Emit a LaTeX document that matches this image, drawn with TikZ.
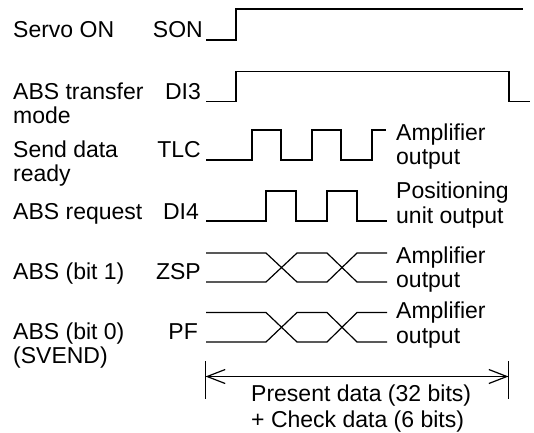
\documentclass[tikz,border=0pt]{standalone}
\usepackage{fontspec}
\setmainfont{Liberation Sans}
\usetikzlibrary{arrows.meta}

\begin{document}
\begin{tikzpicture}[x=1pt,y=-1pt,
    sig/.style={line width=1.2pt},
    txt/.style={font=\fontsize{23}{24.5}\selectfont,inner sep=0pt,align=left}]
  \useasboundingbox (0,0) rectangle (534,432);

  % Signal descriptions (base = last line)
  \node[txt,anchor=base west] (dson) at (13,37.5) {Servo ON};
  \node[txt,anchor=base west] (ddithree) at (13,123.5) {ABS transfer\\mode};
  \node[txt,anchor=base west] (dtlc) at (13,181.5) {Send data\\ready};
  \node[txt,anchor=base west] (ddifour) at (13,219) {ABS request};
  \node[txt,anchor=base west] (dzsp) at (13,279) {ABS (bit 1)};
  \node[txt,anchor=base west] (dpf) at (13,363.5) {ABS (bit 0)\\(SVEND)};

  % Signal names
  \node[txt,anchor=base east] (nson) at (203,37.5) {SON};
  \node[txt,anchor=base east] (ndithree) at (201,99) {DI3};
  \node[txt,anchor=base east] (ntlc) at (201,157) {TLC};
  \node[txt,anchor=base east] (ndifour) at (199,219) {DI4};
  \node[txt,anchor=base east] (nzsp) at (201,279) {ZSP};
  \node[txt,anchor=base east] (npf) at (198,339) {PF};

  % Waveforms
  \draw[sig] (206,40) -- (236,40) -- (236,9) -- (523,9);
  \draw[sig] (206,101.5) -- (236,101.5) -- (236,71.5) -- (509,71.5)
    -- (509,101.5) -- (530,101.5);
  \draw[sig] (206,160) \foreach \x in {252,312} {
      -- (\x,160) -- (\x,130) -- (\x+29,130) -- (\x+29,160)}
    -- (372,160) -- (372,130) -- (386,130);
  \draw[sig] (206,221) \foreach \x in {266,327} {
      -- (\x,221) -- (\x,191) -- (\x+30,191) -- (\x+30,221)}
    -- (387,221);
  \foreach \yt/\yb in {253/282, 312.5/342} {
    \draw[sig] (206,\yt) -- (266,\yt) -- (297,\yb) -- (327,\yb)
      -- (357,\yt) -- (387,\yt);
    \draw[sig] (206,\yb) -- (266,\yb) -- (297,\yt) -- (327,\yt)
      -- (357,\yb) -- (387,\yb);
  }

  % Output notes
  \node[txt,anchor=base west] (otlc) at (396,164.5) {Amplifier\\output};
  \node[txt,anchor=base west] (odifour) at (396,223) {Positioning\\unit output};
  \node[txt,anchor=base west] (ozsp) at (396,287.5) {Amplifier\\output};
  \node[txt,anchor=base west] (opf) at (396,343) {Amplifier\\output};

  % Data length
  \draw[sig] (205.5,361) -- (205.5,399);
  \draw[sig] (508.5,361) -- (508.5,399);
  \coordinate (dimL) at (205.5,376.5);
  \coordinate (dimR) at (508.5,376.5);
  \draw[sig,{Straight Barb[length=18pt,width=14pt]}-{Straight Barb[length=18pt,width=14pt]}]
    (dimL) -- (dimR);
  \node[txt,anchor=base west,font=\fontsize{23}{26.5}\selectfont] (dlen) at (251,427.5)
    {Present data (32 bits)\\+ Check data (6 bits)};
\end{tikzpicture}
\end{document}
